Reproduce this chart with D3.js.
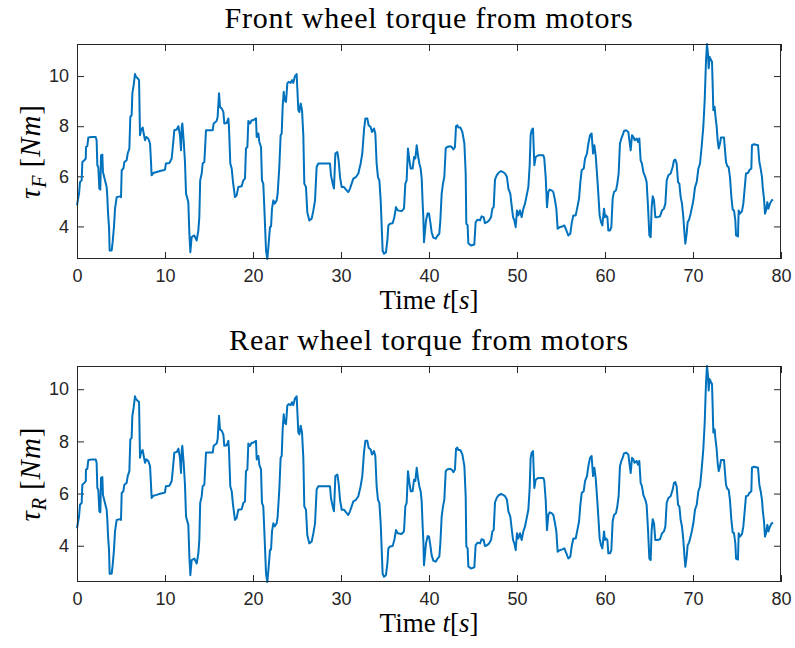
<!DOCTYPE html>
<html>
<head>
<meta charset="utf-8">
<script src="https://cdn.jsdelivr.net/npm/d3@7/dist/d3.min.js"></script>
<style>
  body { margin: 0; background: #fff; }
  .tick text { font-family: "Liberation Sans", Arial, sans-serif; font-size: 18px; fill: #262626; }
  .tex { font-family: "Liberation Serif", "Times New Roman", serif; fill: #000; }
</style>
</head>
<body>
<div id="chart"></div>
<script>
// time samples [s]
var time = [
  0.00,0.23,0.34,0.53,0.61,0.83,1.00,1.02,1.17,1.29,
  1.67,2.12,2.23,2.31,2.42,2.54,2.65,2.73,2.88,2.95,
  3.18,3.37,3.45,3.52,3.64,3.71,3.94,4.05,4.20,4.32,
  4.51,4.89,5.00,5.08,5.27,5.38,5.64,5.76,5.95,6.06,
  6.21,6.29,6.44,6.59,6.70,6.89,7.05,7.16,7.27,7.46,
  7.58,7.73,7.88,8.10,8.30,8.40,8.48,8.67,9.05,9.43,
  9.81,10.00,10.10,10.50,10.76,10.87,11.06,11.33,11.52,11.70,
  11.82,11.90,11.97,12.12,12.27,12.39,12.65,12.77,12.88,13.03,
  13.33,13.60,13.79,13.90,14.00,14.17,14.28,14.47,14.66,15.42,
  15.53,15.87,15.98,16.14,16.25,16.44,16.63,16.74,17.01,17.20,
  17.27,17.42,17.58,17.73,17.95,18.14,18.33,18.71,18.90,19.09,
  19.20,19.36,19.47,19.66,19.85,20.04,20.34,20.42,20.61,20.72,
  20.91,21.02,21.17,21.33,21.48,21.63,21.78,21.93,22.05,22.16,
  22.31,22.46,22.69,22.80,22.99,23.14,23.26,23.37,23.49,23.60,
  23.75,23.90,24.05,24.28,24.43,24.58,24.77,24.96,25.15,25.27,
  25.42,25.57,25.72,25.83,26.02,26.17,26.40,26.67,26.86,27.05,
  27.23,27.42,28.75,28.86,29.05,29.20,29.36,29.58,29.73,29.89,
  30.08,30.34,30.64,30.83,31.02,31.21,31.40,31.70,31.97,32.23,
  32.42,32.61,32.77,32.99,33.14,33.37,33.52,33.75,33.90,34.05,
  34.20,34.36,34.51,34.62,34.73,34.89,35.11,35.27,35.38,35.57,
  35.87,36.06,36.25,36.44,36.89,37.16,37.31,37.46,37.61,37.77,
  37.92,38.14,38.30,38.45,38.60,38.75,38.90,39.05,39.17,39.28,
  39.36,39.43,39.66,39.85,40.00,40.15,40.30,40.49,40.76,40.98,
  41.17,41.29,41.44,41.59,41.74,41.90,42.05,42.39,42.58,42.77,
  42.95,43.07,43.22,43.33,43.56,43.79,44.02,44.17,44.24,44.39,
  44.47,44.77,45.15,45.30,45.53,45.80,45.98,46.21,46.36,46.59,
  46.82,47.05,47.20,47.35,47.50,47.69,47.88,48.18,48.41,48.64,
  48.86,49.02,49.24,49.39,49.55,49.70,49.85,50.00,50.15,50.34,
  50.53,50.72,50.91,51.10,51.29,51.44,51.55,51.67,51.82,51.97,
  52.12,52.42,52.99,53.10,53.26,53.41,53.56,53.71,53.94,54.13,
  54.32,54.47,54.62,54.85,55.15,55.38,55.61,55.83,56.06,56.21,
  56.40,56.67,56.86,57.05,57.20,57.35,57.58,57.73,57.95,58.11,
  58.30,58.48,58.64,58.79,58.94,59.09,59.24,59.39,59.55,59.70,
  59.89,60.00,60.11,60.27,60.38,60.57,60.72,60.87,61.02,61.25,
  61.40,61.55,61.70,61.86,62.01,62.16,62.39,62.65,62.77,62.92,
  63.07,63.22,63.37,63.60,63.75,63.90,64.05,64.20,64.36,64.58,
  64.73,64.89,65.04,65.19,65.30,65.42,65.57,65.72,65.95,66.25,
  66.48,66.70,66.86,67.01,67.20,67.46,67.69,67.84,67.99,68.14,
  68.30,68.45,68.60,68.75,68.90,69.05,69.13,69.28,69.39,69.55,
  69.73,69.89,70.04,70.23,70.42,70.61,70.80,70.98,71.17,71.33,
  71.48,71.59,71.70,71.78,71.89,72.05,72.16,72.23,72.31,72.46,
  72.54,72.69,72.80,72.92,73.07,73.18,73.52,73.64,73.75,73.90,
  74.05,74.20,74.36,74.51,74.66,74.81,74.89,75.11,75.19,75.34,
  75.57,75.72,75.87,76.02,76.25,76.40,76.63,76.70,76.93,77.39,
  77.54,77.69,77.84,77.92,78.07,78.18,78.30,78.45,78.56,78.75,
  78.94,79.10
];

// front wheel torque [Nm]
var torqueFront = [
  4.84,5.31,5.77,5.84,6.57,6.64,6.71,7.17,7.20,7.55,
  7.57,7.57,7.44,6.44,6.37,5.51,5.47,6.84,6.87,6.17,
  5.84,5.57,5.17,4.57,3.97,3.04,3.04,3.37,3.97,4.71,
  5.17,5.20,5.17,6.24,6.31,6.57,6.64,6.91,7.11,8.37,
  8.44,9.31,9.64,10.08,9.97,9.91,9.84,7.64,7.84,7.95,
  7.71,7.44,7.57,7.51,7.31,6.64,6.04,6.13,6.17,6.21,
  6.24,6.27,6.51,6.53,6.71,7.11,7.84,7.87,8.00,7.64,
  7.04,7.95,8.11,7.44,6.57,5.31,4.97,3.71,2.97,3.57,
  3.64,3.44,3.84,4.37,5.84,6.11,6.51,6.57,7.84,7.84,
  8.11,8.21,8.37,9.31,8.77,8.71,8.57,8.11,8.13,8.31,
  7.97,6.51,6.31,5.77,5.17,5.24,5.57,5.60,5.84,5.91,
  7.11,7.17,8.21,8.11,8.24,8.24,8.31,7.57,7.71,7.37,
  7.17,5.84,5.71,4.37,3.04,2.70,3.31,3.97,4.00,4.71,
  5.04,4.91,5.04,5.31,6.37,7.64,7.71,8.77,9.37,9.04,
  8.97,9.71,9.77,9.73,9.84,9.73,10.00,10.08,8.64,8.57,
  8.91,8.64,7.64,5.71,5.57,4.57,4.24,4.31,4.64,5.04,
  6.37,6.51,6.51,6.04,5.71,5.51,6.91,6.97,6.64,5.97,
  5.57,5.57,5.44,5.37,5.51,5.71,5.91,5.97,6.11,6.51,
  6.91,7.84,8.31,8.31,8.04,7.97,7.77,7.91,7.71,6.51,
  5.97,5.84,5.04,4.04,3.04,2.91,2.97,3.44,4.04,4.11,
  4.13,4.37,4.77,4.64,4.61,4.71,5.71,5.84,7.11,6.64,
  6.31,6.31,6.77,6.71,7.24,6.84,6.51,6.31,5.91,4.91,
  4.31,3.37,4.24,4.53,4.51,4.17,3.77,3.55,3.51,3.64,
  3.71,4.24,5.31,5.71,5.97,7.11,7.17,7.20,7.17,7.07,
  7.17,8.00,8.04,7.95,7.95,7.77,7.31,6.11,4.11,4.04,
  3.33,3.24,3.28,4.17,4.27,4.24,4.40,4.37,4.13,4.17,
  4.24,4.37,4.71,4.77,5.87,6.04,6.13,6.21,6.17,6.11,
  5.97,5.51,5.31,4.84,4.37,4.24,3.97,4.64,4.44,4.64,
  4.37,4.71,4.91,5.24,5.57,6.44,7.64,7.84,7.91,6.44,
  6.77,6.84,6.84,6.71,5.97,4.77,5.37,5.47,5.44,5.37,
  5.04,4.71,3.91,3.97,4.00,4.04,3.84,3.64,3.71,4.11,
  4.44,4.44,4.77,5.11,5.77,6.24,6.31,6.71,6.91,7.31,
  7.64,7.71,6.91,7.24,6.84,6.11,5.31,4.44,4.17,4.04,
  4.71,4.37,4.44,4.37,3.84,3.84,3.97,5.11,5.37,5.44,
  5.71,6.11,7.31,7.51,7.64,7.81,7.84,7.77,7.44,7.04,
  7.64,7.57,7.44,7.51,7.37,7.51,6.64,6.51,6.17,5.97,
  5.77,4.77,3.64,3.57,4.77,5.20,5.04,4.37,4.37,4.40,
  4.64,4.71,4.91,5.84,6.04,6.11,6.37,6.64,6.67,6.51,
  5.77,5.71,5.17,4.91,4.37,3.64,3.31,3.71,4.17,4.27,
  4.51,4.77,5.04,5.57,5.77,6.31,6.51,7.17,7.97,9.04,
  10.64,11.28,10.91,10.31,10.77,10.64,10.57,9.71,8.64,8.77,
  8.44,7.97,7.44,7.11,7.31,7.55,7.55,7.04,6.57,6.40,
  6.37,5.97,5.17,4.67,4.64,4.24,3.64,3.60,4.64,4.51,
  4.61,4.91,5.51,6.11,6.13,6.24,6.31,7.24,7.28,7.24,
  6.57,6.31,5.97,5.57,5.11,4.51,4.64,4.97,4.71,4.91,
  5.04,5.07
];

// rear wheel torque [Nm]
var torqueRear = [
  4.67,5.12,5.57,5.64,6.34,6.41,6.48,6.92,6.95,7.29,
  7.31,7.31,7.18,6.21,6.15,5.32,5.28,6.60,6.63,5.95,
  5.64,5.38,4.99,4.41,3.83,2.93,2.93,3.25,3.83,4.55,
  4.99,5.02,4.99,6.02,6.09,6.34,6.41,6.67,6.86,8.08,
  8.14,8.98,9.30,9.73,9.62,9.56,9.50,7.37,7.57,7.67,
  7.44,7.18,7.31,7.25,7.05,6.41,5.83,5.92,5.95,5.99,
  6.02,6.05,6.28,6.30,6.48,6.86,7.57,7.59,7.72,7.37,
  6.79,7.67,7.83,7.18,6.34,5.12,4.80,3.58,2.87,3.45,
  3.51,3.32,3.71,4.22,5.64,5.90,6.28,6.34,7.57,7.57,
  7.83,7.92,8.08,8.98,8.46,8.41,8.27,7.83,7.85,8.02,
  7.69,6.28,6.09,5.57,4.99,5.06,5.38,5.40,5.64,5.70,
  6.86,6.92,7.92,7.83,7.95,7.95,8.02,7.31,7.44,7.11,
  6.92,5.64,5.51,4.22,2.93,2.61,3.19,3.83,3.86,4.55,
  4.86,4.74,4.86,5.12,6.15,7.37,7.44,8.46,9.04,8.72,
  8.66,9.37,9.43,9.39,9.50,9.39,9.65,9.73,8.34,8.27,
  8.60,8.34,7.37,5.51,5.38,4.41,4.09,4.16,4.48,4.86,
  6.15,6.28,6.28,5.83,5.51,5.32,6.67,6.73,6.41,5.76,
  5.38,5.38,5.25,5.18,5.32,5.51,5.70,5.76,5.90,6.28,
  6.67,7.57,8.02,8.02,7.76,7.69,7.50,7.63,7.44,6.28,
  5.76,5.64,4.86,3.90,2.93,2.81,2.87,3.32,3.90,3.97,
  3.99,4.22,4.60,4.48,4.45,4.55,5.51,5.64,6.86,6.41,
  6.09,6.09,6.53,6.48,6.99,6.60,6.28,6.09,5.70,4.74,
  4.16,3.25,4.09,4.37,4.35,4.02,3.64,3.43,3.39,3.51,
  3.58,4.09,5.12,5.51,5.76,6.86,6.92,6.95,6.92,6.82,
  6.92,7.72,7.76,7.67,7.67,7.50,7.05,5.90,3.97,3.90,
  3.21,3.13,3.17,4.02,4.12,4.09,4.25,4.22,3.99,4.02,
  4.09,4.22,4.55,4.60,5.66,5.83,5.92,5.99,5.95,5.90,
  5.76,5.32,5.12,4.67,4.22,4.09,3.83,4.48,4.28,4.48,
  4.22,4.55,4.74,5.06,5.38,6.21,7.37,7.57,7.63,6.21,
  6.53,6.60,6.60,6.48,5.76,4.60,5.18,5.28,5.25,5.18,
  4.86,4.55,3.77,3.83,3.86,3.90,3.71,3.51,3.58,3.97,
  4.28,4.28,4.60,4.93,5.57,6.02,6.09,6.48,6.67,7.05,
  7.37,7.44,6.67,6.99,6.60,5.90,5.12,4.28,4.02,3.90,
  4.55,4.22,4.28,4.22,3.71,3.71,3.83,4.93,5.18,5.25,
  5.51,5.90,7.05,7.25,7.37,7.54,7.57,7.50,7.18,6.79,
  7.37,7.31,7.18,7.25,7.11,7.25,6.41,6.28,5.95,5.76,
  5.57,4.60,3.51,3.45,4.60,5.02,4.86,4.22,4.22,4.25,
  4.48,4.55,4.74,5.64,5.83,5.90,6.15,6.41,6.44,6.28,
  5.57,5.51,4.99,4.74,4.22,3.51,3.19,3.58,4.02,4.12,
  4.35,4.60,4.86,5.38,5.57,6.09,6.28,6.92,7.69,8.72,
  10.27,10.89,10.53,9.95,10.39,10.27,10.20,9.37,8.34,8.46,
  8.14,7.69,7.18,6.86,7.05,7.29,7.29,6.79,6.34,6.18,
  6.15,5.76,4.99,4.51,4.48,4.09,3.51,3.47,4.48,4.35,
  4.45,4.74,5.32,5.90,5.92,6.02,6.09,6.99,7.03,6.99,
  6.34,6.09,5.76,5.38,4.93,4.35,4.48,4.80,4.55,4.74,
  4.86,4.89
];

var xTicks = [0, 10, 20, 30, 40, 50, 60, 70, 80];
var yTicks = [4, 6, 8, 10];
var timeRange = [0, 80];

var svgWidth = 795;
var svgHeight = 648;

var svg = d3.select("#chart")
  .append("svg")
  .attr("width", svgWidth)
  .attr("height", svgHeight);

var plotLeft = 77;
var plotRight = 781;
var tickLen = 7;

var panels = [
  { values: torqueFront, top: 44, bottom: 259, title: "Front wheel torque from motors", sub: "F" },
  { values: torqueRear, top: 366, bottom: 582, title: "Rear wheel torque from motors", sub: "R" }
];

panels.forEach(function(p) {
  var xScale = d3.scaleLinear().domain(timeRange).range([plotLeft, plotRight]);
  var yScale = d3.scaleLinear().domain(d3.extent(p.values)).range([p.bottom, p.top]);

  var g = svg.append("g");

  // axes, ticks pointing inward on all four sides
  var bottomAxis = d3.axisBottom(xScale).tickValues(xTicks).tickSize(-tickLen).tickPadding(10);
  var topAxis = d3.axisTop(xScale).tickValues(xTicks).tickSize(-tickLen).tickFormat("");
  var leftAxis = d3.axisLeft(yScale).tickValues(yTicks).tickSize(-tickLen).tickPadding(8);
  var rightAxis = d3.axisRight(yScale).tickValues(yTicks).tickSize(-tickLen).tickFormat("");

  [[bottomAxis, "translate(0," + p.bottom + ")"],
   [topAxis, "translate(0," + p.top + ")"],
   [leftAxis, "translate(" + plotLeft + ",0)"],
   [rightAxis, "translate(" + plotRight + ",0)"]].forEach(function(a) {
    var ax = g.append("g").attr("transform", a[1]).call(a[0]);
    ax.select(".domain").remove();
    ax.selectAll(".tick line").attr("stroke", "#262626");
  });

  // the data line
  var line = d3.line()
    .x(function(d, i) { return xScale(time[i]); })
    .y(function(d) { return yScale(d); });

  g.append("path")
    .datum(p.values)
    .attr("fill", "none")
    .attr("stroke", "#0072BD")
    .attr("stroke-width", 2)
    .attr("stroke-linejoin", "round")
    .attr("d", line);

  // box
  g.append("rect")
    .attr("x", plotLeft + 0.5)
    .attr("y", p.top + 0.5)
    .attr("width", plotRight - plotLeft - 1)
    .attr("height", p.bottom - p.top - 1)
    .attr("fill", "none")
    .attr("stroke", "#262626")
    .attr("stroke-width", 1);

  var midX = (plotLeft + plotRight) / 2;

  // title
  g.append("text")
    .attr("class", "tex")
    .attr("x", midX)
    .attr("y", p.top - 16)
    .attr("text-anchor", "middle")
    .style("font-size", "30px")
    .style("letter-spacing", "0.8px")
    .text(p.title);

  // x label: Time t[s]
  var xl = g.append("text")
    .attr("class", "tex")
    .attr("x", midX)
    .attr("y", p.bottom + 50)
    .attr("text-anchor", "middle")
    .style("font-size", "27px");
  xl.append("tspan").text("Time ");
  xl.append("tspan").style("font-style", "italic").text("t");
  xl.append("tspan").text("[");
  xl.append("tspan").style("font-style", "italic").text("s");
  xl.append("tspan").text("]");

  // y label: tau_sub [Nm]
  var midY = (p.top + p.bottom) / 2;
  var yl = g.append("text")
    .attr("class", "tex")
    .attr("transform", "translate(40," + midY + ") rotate(-90)")
    .attr("text-anchor", "middle")
    .style("font-size", "29px")
    .style("letter-spacing", "1px");
  yl.append("tspan").style("font-style", "italic").text("\u03C4");
  yl.append("tspan").style("font-style", "italic").style("font-size", "20px").attr("dy", "6").text(p.sub);
  yl.append("tspan").attr("dy", "-6").text("\u2009[");
  yl.append("tspan").style("font-style", "italic").text("Nm");
  yl.append("tspan").text("]");
});
</script>
</body>
</html>
